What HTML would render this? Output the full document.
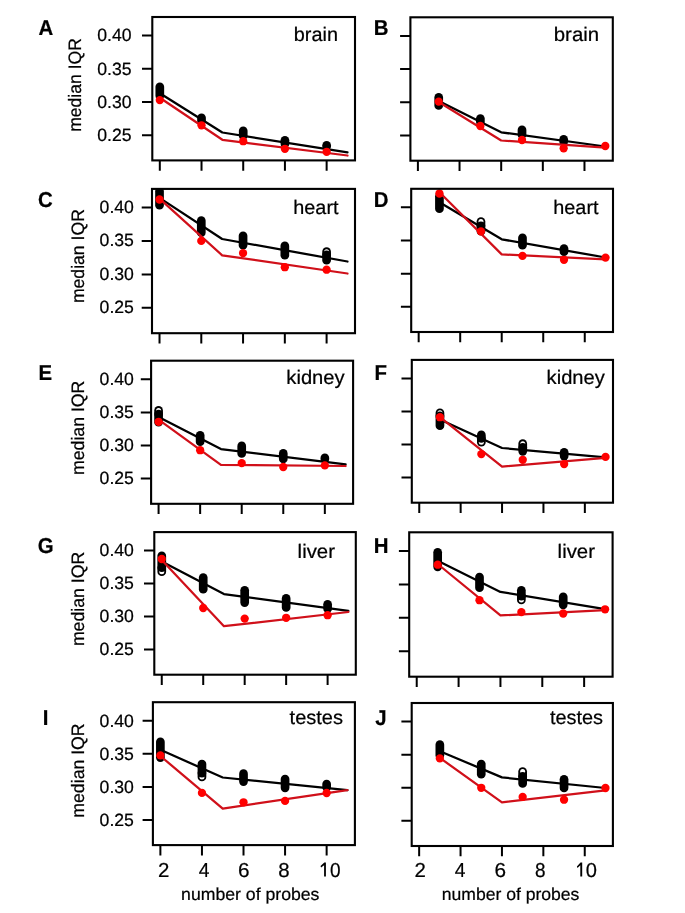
<!DOCTYPE html>
<html><head><meta charset="utf-8"><style>
html,body{margin:0;padding:0;background:#fff;}
svg{display:block;will-change:transform;}
text{font-family:"Liberation Sans",sans-serif;fill:#000;text-rendering:geometricPrecision;stroke:#000;stroke-width:0.22px;}
</style></head><body>
<svg width="685" height="913" viewBox="0 0 685 913">
<rect width="685" height="913" fill="#fff"/>
<defs>
<clipPath id="cA"><rect x="152.30" y="17.00" width="202.70" height="143.40"/></clipPath>
<clipPath id="cB"><rect x="410.40" y="17.30" width="202.40" height="143.40"/></clipPath>
<clipPath id="cC"><rect x="152.00" y="188.90" width="203.00" height="144.30"/></clipPath>
<clipPath id="cD"><rect x="411.20" y="188.80" width="201.80" height="143.20"/></clipPath>
<clipPath id="cE"><rect x="151.10" y="360.70" width="202.00" height="143.10"/></clipPath>
<clipPath id="cF"><rect x="411.80" y="359.90" width="201.20" height="142.80"/></clipPath>
<clipPath id="cG"><rect x="154.30" y="532.10" width="201.50" height="142.60"/></clipPath>
<clipPath id="cH"><rect x="409.20" y="532.30" width="203.40" height="144.40"/></clipPath>
<clipPath id="cI"><rect x="152.90" y="702.20" width="202.00" height="142.90"/></clipPath>
<clipPath id="cJ"><rect x="411.70" y="703.00" width="201.20" height="143.00"/></clipPath>
</defs>
<g clip-path="url(#cA)">
<rect x="155.46" y="82.40" width="8.7" height="17.60" rx="4.35" fill="#000"/>
<rect x="197.17" y="113.50" width="8.7" height="11.50" rx="4.35" fill="#000"/>
<rect x="238.87" y="126.40" width="8.7" height="13.60" rx="4.35" fill="#000"/>
<rect x="280.58" y="136.00" width="8.7" height="12.00" rx="4.35" fill="#000"/>
<rect x="322.29" y="141.00" width="8.7" height="9.50" rx="4.35" fill="#000"/>
<polyline points="159.81,93.30 222.37,132.50 347.49,152.40" fill="none" stroke="#000" stroke-width="2.25" stroke-linejoin="round" stroke-linecap="round"/>
<polyline points="159.81,97.70 222.37,139.80 347.49,155.50" fill="none" stroke="#d0101a" stroke-width="2.25" stroke-linejoin="round" stroke-linecap="round"/>
<circle cx="159.81" cy="100.10" r="4.15" fill="#ff0000"/>
<circle cx="201.52" cy="125.30" r="4.15" fill="#ff0000"/>
<circle cx="243.22" cy="141.20" r="4.15" fill="#ff0000"/>
<circle cx="284.93" cy="148.80" r="4.15" fill="#ff0000"/>
<circle cx="326.64" cy="151.80" r="4.15" fill="#ff0000"/>
</g>
<g clip-path="url(#cB)">
<rect x="434.37" y="93.10" width="8.7" height="16.70" rx="4.35" fill="#000"/>
<rect x="476.02" y="114.20" width="8.7" height="11.80" rx="4.35" fill="#000"/>
<rect x="517.66" y="125.60" width="8.7" height="13.40" rx="4.35" fill="#000"/>
<rect x="559.31" y="134.90" width="8.7" height="11.10" rx="4.35" fill="#000"/>
<polyline points="438.72,100.90 501.19,132.30 605.30,146.50" fill="none" stroke="#000" stroke-width="2.25" stroke-linejoin="round" stroke-linecap="round"/>
<polyline points="438.72,102.00 501.19,140.50 605.30,147.60" fill="none" stroke="#d0101a" stroke-width="2.25" stroke-linejoin="round" stroke-linecap="round"/>
<circle cx="438.72" cy="101.60" r="4.15" fill="#ff0000"/>
<circle cx="480.37" cy="126.00" r="4.15" fill="#ff0000"/>
<circle cx="522.01" cy="140.00" r="4.15" fill="#ff0000"/>
<circle cx="563.66" cy="148.30" r="4.15" fill="#ff0000"/>
<circle cx="605.30" cy="146.00" r="4.15" fill="#ff0000"/>
</g>
<g clip-path="url(#cC)">
<rect x="155.17" y="186.90" width="8.7" height="22.60" rx="4.35" fill="#000"/>
<rect x="196.94" y="216.30" width="8.7" height="20.80" rx="4.35" fill="#000"/>
<rect x="238.71" y="231.40" width="8.7" height="18.20" rx="4.35" fill="#000"/>
<rect x="280.48" y="241.60" width="8.7" height="17.90" rx="4.35" fill="#000"/>
<rect x="322.25" y="247.30" width="8.7" height="17.20" rx="4.35" fill="#000"/>
<circle cx="326.60" cy="251.65" r="2.50" fill="#fff"/>
<circle cx="326.60" cy="254.85" r="4.35" fill="#000"/>
<polyline points="159.52,197.90 222.17,239.00 347.48,261.50" fill="none" stroke="#000" stroke-width="2.25" stroke-linejoin="round" stroke-linecap="round"/>
<polyline points="159.52,198.60 222.17,255.30 347.48,273.50" fill="none" stroke="#d0101a" stroke-width="2.25" stroke-linejoin="round" stroke-linecap="round"/>
<circle cx="159.52" cy="199.50" r="4.15" fill="#ff0000"/>
<circle cx="201.29" cy="240.90" r="4.15" fill="#ff0000"/>
<circle cx="243.06" cy="253.10" r="4.15" fill="#ff0000"/>
<circle cx="284.83" cy="267.20" r="4.15" fill="#ff0000"/>
<circle cx="326.60" cy="269.70" r="4.15" fill="#ff0000"/>
</g>
<g clip-path="url(#cD)">
<rect x="435.09" y="192.00" width="8.7" height="21.00" rx="4.35" fill="#000"/>
<rect x="476.61" y="217.20" width="8.7" height="18.40" rx="4.35" fill="#000"/>
<circle cx="480.96" cy="221.55" r="2.50" fill="#fff"/>
<circle cx="480.96" cy="225.75" r="4.35" fill="#000"/>
<rect x="518.13" y="233.40" width="8.7" height="16.20" rx="4.35" fill="#000"/>
<rect x="559.65" y="244.20" width="8.7" height="11.80" rx="4.35" fill="#000"/>
<polyline points="439.44,202.30 501.72,239.30 605.53,257.50" fill="none" stroke="#000" stroke-width="2.25" stroke-linejoin="round" stroke-linecap="round"/>
<polyline points="439.44,192.20 501.72,254.40 605.53,259.30" fill="none" stroke="#d0101a" stroke-width="2.25" stroke-linejoin="round" stroke-linecap="round"/>
<circle cx="439.44" cy="193.50" r="4.15" fill="#ff0000"/>
<circle cx="480.96" cy="231.40" r="4.15" fill="#ff0000"/>
<circle cx="522.48" cy="255.90" r="4.15" fill="#ff0000"/>
<circle cx="564.00" cy="259.80" r="4.15" fill="#ff0000"/>
<circle cx="605.53" cy="257.60" r="4.15" fill="#ff0000"/>
</g>
<g clip-path="url(#cE)">
<rect x="154.23" y="406.10" width="8.7" height="20.40" rx="4.35" fill="#000"/>
<circle cx="158.58" cy="410.45" r="2.50" fill="#fff"/>
<circle cx="158.58" cy="414.05" r="4.35" fill="#000"/>
<rect x="195.80" y="431.00" width="8.7" height="15.00" rx="4.35" fill="#000"/>
<rect x="237.36" y="441.60" width="8.7" height="16.20" rx="4.35" fill="#000"/>
<rect x="278.92" y="449.10" width="8.7" height="14.20" rx="4.35" fill="#000"/>
<rect x="320.49" y="453.60" width="8.7" height="9.70" rx="4.35" fill="#000"/>
<polyline points="158.58,417.00 220.93,449.10 345.62,464.30" fill="none" stroke="#000" stroke-width="2.25" stroke-linejoin="round" stroke-linecap="round"/>
<polyline points="158.58,419.60 220.93,464.80 345.62,466.00" fill="none" stroke="#d0101a" stroke-width="2.25" stroke-linejoin="round" stroke-linecap="round"/>
<circle cx="158.58" cy="421.80" r="4.15" fill="#ff0000"/>
<circle cx="200.15" cy="450.20" r="4.15" fill="#ff0000"/>
<circle cx="241.71" cy="463.10" r="4.15" fill="#ff0000"/>
<circle cx="283.27" cy="467.00" r="4.15" fill="#ff0000"/>
<circle cx="324.84" cy="465.40" r="4.15" fill="#ff0000"/>
</g>
<g clip-path="url(#cF)">
<rect x="435.60" y="408.40" width="8.7" height="21.60" rx="4.35" fill="#000"/>
<circle cx="439.95" cy="412.75" r="2.50" fill="#fff"/>
<circle cx="439.95" cy="415.95" r="4.35" fill="#000"/>
<rect x="477.00" y="430.60" width="8.7" height="15.90" rx="4.35" fill="#000"/>
<circle cx="481.35" cy="442.15" r="2.50" fill="#fff"/>
<circle cx="481.35" cy="438.35" r="4.35" fill="#000"/>
<rect x="518.40" y="439.30" width="8.7" height="16.40" rx="4.35" fill="#000"/>
<circle cx="522.75" cy="443.65" r="2.50" fill="#fff"/>
<circle cx="522.75" cy="447.45" r="4.35" fill="#000"/>
<rect x="559.80" y="448.00" width="8.7" height="12.40" rx="4.35" fill="#000"/>
<polyline points="439.95,419.60 502.05,448.00 605.55,457.40" fill="none" stroke="#000" stroke-width="2.25" stroke-linejoin="round" stroke-linecap="round"/>
<polyline points="439.95,417.20 502.05,466.60 605.55,457.80" fill="none" stroke="#d0101a" stroke-width="2.25" stroke-linejoin="round" stroke-linecap="round"/>
<circle cx="439.95" cy="417.20" r="4.15" fill="#ff0000"/>
<circle cx="481.35" cy="454.10" r="4.15" fill="#ff0000"/>
<circle cx="522.75" cy="459.80" r="4.15" fill="#ff0000"/>
<circle cx="564.15" cy="464.10" r="4.15" fill="#ff0000"/>
<circle cx="605.55" cy="456.90" r="4.15" fill="#ff0000"/>
</g>
<g clip-path="url(#cG)">
<rect x="157.41" y="551.40" width="8.7" height="24.60" rx="4.35" fill="#000"/>
<circle cx="161.76" cy="571.65" r="2.50" fill="#fff"/>
<circle cx="161.76" cy="567.75" r="4.35" fill="#000"/>
<rect x="198.87" y="573.20" width="8.7" height="20.40" rx="4.35" fill="#000"/>
<rect x="240.33" y="586.00" width="8.7" height="20.90" rx="4.35" fill="#000"/>
<rect x="281.80" y="594.10" width="8.7" height="17.70" rx="4.35" fill="#000"/>
<rect x="323.26" y="600.00" width="8.7" height="13.10" rx="4.35" fill="#000"/>
<polyline points="161.76,561.50 223.95,594.10 348.34,610.80" fill="none" stroke="#000" stroke-width="2.25" stroke-linejoin="round" stroke-linecap="round"/>
<polyline points="161.76,560.00 223.95,626.20 348.34,612.00" fill="none" stroke="#d0101a" stroke-width="2.25" stroke-linejoin="round" stroke-linecap="round"/>
<circle cx="161.76" cy="559.00" r="4.15" fill="#ff0000"/>
<circle cx="203.22" cy="608.00" r="4.15" fill="#ff0000"/>
<circle cx="244.68" cy="618.60" r="4.15" fill="#ff0000"/>
<circle cx="286.15" cy="617.80" r="4.15" fill="#ff0000"/>
<circle cx="327.61" cy="615.20" r="4.15" fill="#ff0000"/>
</g>
<g clip-path="url(#cH)">
<rect x="433.31" y="548.00" width="8.7" height="23.20" rx="4.35" fill="#000"/>
<rect x="475.16" y="572.70" width="8.7" height="19.40" rx="4.35" fill="#000"/>
<rect x="517.01" y="585.90" width="8.7" height="18.40" rx="4.35" fill="#000"/>
<circle cx="521.36" cy="599.95" r="2.50" fill="#fff"/>
<circle cx="521.36" cy="596.15" r="4.35" fill="#000"/>
<rect x="558.86" y="592.40" width="8.7" height="16.80" rx="4.35" fill="#000"/>
<polyline points="437.66,560.70 500.44,591.90 605.07,609.20" fill="none" stroke="#000" stroke-width="2.25" stroke-linejoin="round" stroke-linecap="round"/>
<polyline points="437.66,564.00 500.44,615.40 605.07,610.20" fill="none" stroke="#d0101a" stroke-width="2.25" stroke-linejoin="round" stroke-linecap="round"/>
<circle cx="437.66" cy="564.70" r="4.15" fill="#ff0000"/>
<circle cx="479.51" cy="600.20" r="4.15" fill="#ff0000"/>
<circle cx="521.36" cy="612.10" r="4.15" fill="#ff0000"/>
<circle cx="563.21" cy="613.50" r="4.15" fill="#ff0000"/>
<circle cx="605.07" cy="609.30" r="4.15" fill="#ff0000"/>
</g>
<g clip-path="url(#cI)">
<rect x="156.03" y="737.40" width="8.7" height="24.50" rx="4.35" fill="#000"/>
<rect x="197.60" y="759.80" width="8.7" height="21.50" rx="4.35" fill="#000"/>
<circle cx="201.95" cy="776.95" r="2.50" fill="#fff"/>
<circle cx="201.95" cy="773.05" r="4.35" fill="#000"/>
<rect x="239.16" y="769.30" width="8.7" height="16.60" rx="4.35" fill="#000"/>
<rect x="280.72" y="774.70" width="8.7" height="17.50" rx="4.35" fill="#000"/>
<rect x="322.29" y="779.70" width="8.7" height="11.80" rx="4.35" fill="#000"/>
<polyline points="160.38,749.80 222.73,777.50 347.42,790.20" fill="none" stroke="#000" stroke-width="2.25" stroke-linejoin="round" stroke-linecap="round"/>
<polyline points="160.38,756.00 222.73,808.60 347.42,790.20" fill="none" stroke="#d0101a" stroke-width="2.25" stroke-linejoin="round" stroke-linecap="round"/>
<circle cx="160.38" cy="755.40" r="4.15" fill="#ff0000"/>
<circle cx="201.95" cy="792.90" r="4.15" fill="#ff0000"/>
<circle cx="243.51" cy="802.30" r="4.15" fill="#ff0000"/>
<circle cx="285.07" cy="800.90" r="4.15" fill="#ff0000"/>
<circle cx="326.64" cy="793.00" r="4.15" fill="#ff0000"/>
</g>
<g clip-path="url(#cJ)">
<rect x="435.50" y="740.30" width="8.7" height="19.40" rx="4.35" fill="#000"/>
<rect x="476.90" y="759.70" width="8.7" height="18.90" rx="4.35" fill="#000"/>
<rect x="518.30" y="767.20" width="8.7" height="20.60" rx="4.35" fill="#000"/>
<circle cx="522.65" cy="771.55" r="2.50" fill="#fff"/>
<circle cx="522.65" cy="776.35" r="4.35" fill="#000"/>
<rect x="559.70" y="774.90" width="8.7" height="17.40" rx="4.35" fill="#000"/>
<polyline points="439.85,751.20 501.95,777.40 605.45,788.00" fill="none" stroke="#000" stroke-width="2.25" stroke-linejoin="round" stroke-linecap="round"/>
<polyline points="439.85,757.90 501.95,802.30 605.45,790.30" fill="none" stroke="#d0101a" stroke-width="2.25" stroke-linejoin="round" stroke-linecap="round"/>
<circle cx="439.85" cy="758.40" r="4.15" fill="#ff0000"/>
<circle cx="481.25" cy="787.80" r="4.15" fill="#ff0000"/>
<circle cx="522.65" cy="796.90" r="4.15" fill="#ff0000"/>
<circle cx="564.05" cy="799.70" r="4.15" fill="#ff0000"/>
<circle cx="605.45" cy="788.00" r="4.15" fill="#ff0000"/>
</g>
<rect x="152.30" y="17.00" width="202.70" height="143.40" fill="none" stroke="#000" stroke-width="2.1"/>
<path d="M142.00 135.17H152.30M142.00 101.98H152.30M142.00 68.78H152.30M142.00 35.59H152.30M159.81 160.40V170.70M201.52 160.40V170.70M243.22 160.40V170.70M284.93 160.40V170.70M326.64 160.40V170.70" stroke="#000" stroke-width="2.0" fill="none"/>
<rect x="410.40" y="17.30" width="202.40" height="143.40" fill="none" stroke="#000" stroke-width="2.1"/>
<path d="M400.10 135.47H410.40M400.10 102.28H410.40M400.10 69.08H410.40M400.10 35.89H410.40M417.90 160.70V171.00M459.54 160.70V171.00M501.19 160.70V171.00M542.83 160.70V171.00M584.48 160.70V171.00" stroke="#000" stroke-width="2.0" fill="none"/>
<rect x="152.00" y="188.90" width="203.00" height="144.30" fill="none" stroke="#000" stroke-width="2.1"/>
<path d="M141.70 307.81H152.00M141.70 274.41H152.00M141.70 241.01H152.00M141.70 207.61H152.00M159.52 333.20V343.50M201.29 333.20V343.50M243.06 333.20V343.50M284.83 333.20V343.50M326.60 333.20V343.50" stroke="#000" stroke-width="2.0" fill="none"/>
<rect x="411.20" y="188.80" width="201.80" height="143.20" fill="none" stroke="#000" stroke-width="2.1"/>
<path d="M400.90 306.81H411.20M400.90 273.66H411.20M400.90 240.51H411.20M400.90 207.36H411.20M418.67 332.00V342.30M460.20 332.00V342.30M501.72 332.00V342.30M543.24 332.00V342.30M584.76 332.00V342.30" stroke="#000" stroke-width="2.0" fill="none"/>
<rect x="151.10" y="360.70" width="202.00" height="143.10" fill="none" stroke="#000" stroke-width="2.1"/>
<path d="M140.80 478.62H151.10M140.80 445.50H151.10M140.80 412.38H151.10M140.80 379.25H151.10M158.58 503.80V514.10M200.15 503.80V514.10M241.71 503.80V514.10M283.27 503.80V514.10M324.84 503.80V514.10" stroke="#000" stroke-width="2.0" fill="none"/>
<rect x="411.80" y="359.90" width="201.20" height="142.80" fill="none" stroke="#000" stroke-width="2.1"/>
<path d="M401.50 477.58H411.80M401.50 444.52H411.80M401.50 411.47H411.80M401.50 378.41H411.80M419.25 502.70V513.00M460.65 502.70V513.00M502.05 502.70V513.00M543.45 502.70V513.00M584.85 502.70V513.00" stroke="#000" stroke-width="2.0" fill="none"/>
<rect x="154.30" y="532.10" width="201.50" height="142.60" fill="none" stroke="#000" stroke-width="2.1"/>
<path d="M144.00 649.61H154.30M144.00 616.60H154.30M144.00 583.59H154.30M144.00 550.59H154.30M161.76 674.70V685.00M203.22 674.70V685.00M244.68 674.70V685.00M286.15 674.70V685.00M327.61 674.70V685.00" stroke="#000" stroke-width="2.0" fill="none"/>
<rect x="409.20" y="532.30" width="203.40" height="144.40" fill="none" stroke="#000" stroke-width="2.1"/>
<path d="M398.90 651.30H409.20M398.90 617.87H409.20M398.90 584.44H409.20M398.90 551.02H409.20M416.73 676.70V687.00M458.59 676.70V687.00M500.44 676.70V687.00M542.29 676.70V687.00M584.14 676.70V687.00" stroke="#000" stroke-width="2.0" fill="none"/>
<rect x="152.90" y="702.20" width="202.00" height="142.90" fill="none" stroke="#000" stroke-width="2.1"/>
<path d="M142.60 819.96H152.90M142.60 786.88H152.90M142.60 753.80H152.90M142.60 720.72H152.90M160.38 845.10V855.40M201.95 845.10V855.40M243.51 845.10V855.40M285.07 845.10V855.40M326.64 845.10V855.40" stroke="#000" stroke-width="2.0" fill="none"/>
<rect x="411.70" y="703.00" width="201.20" height="143.00" fill="none" stroke="#000" stroke-width="2.1"/>
<path d="M401.40 820.84H411.70M401.40 787.74H411.70M401.40 754.64H411.70M401.40 721.54H411.70M419.15 846.00V856.30M460.55 846.00V856.30M501.95 846.00V856.30M543.35 846.00V856.30M584.75 846.00V856.30" stroke="#000" stroke-width="2.0" fill="none"/>
<text x="38.55" y="35.00" font-size="21.5" font-weight="bold" textLength="14.75" lengthAdjust="spacingAndGlyphs">A</text>
<text x="373.74" y="35.00" font-size="21.5" font-weight="bold" textLength="14.75" lengthAdjust="spacingAndGlyphs">B</text>
<text x="37.94" y="207.00" font-size="21.5" font-weight="bold" textLength="14.75" lengthAdjust="spacingAndGlyphs">C</text>
<text x="373.82" y="207.00" font-size="21.5" font-weight="bold" textLength="14.75" lengthAdjust="spacingAndGlyphs">D</text>
<text x="38.45" y="380.00" font-size="21.5" font-weight="bold" textLength="13.62" lengthAdjust="spacingAndGlyphs">E</text>
<text x="374.49" y="380.00" font-size="21.5" font-weight="bold" textLength="12.48" lengthAdjust="spacingAndGlyphs">F</text>
<text x="37.74" y="553.00" font-size="21.5" font-weight="bold" textLength="15.89" lengthAdjust="spacingAndGlyphs">G</text>
<text x="373.67" y="553.00" font-size="21.5" font-weight="bold" textLength="14.75" lengthAdjust="spacingAndGlyphs">H</text>
<text x="42.67" y="725.00" font-size="21.5" font-weight="bold" textLength="5.68" lengthAdjust="spacingAndGlyphs">I</text>
<text x="375.37" y="725.00" font-size="21.5" font-weight="bold" textLength="11.36" lengthAdjust="spacingAndGlyphs">J</text>
<text x="293.81" y="41.00" font-size="19.6" textLength="44.21" lengthAdjust="spacingAndGlyphs">brain</text>
<text x="553.77" y="41.00" font-size="19.6" textLength="45.38" lengthAdjust="spacingAndGlyphs">brain</text>
<text x="293.31" y="214.00" font-size="19.6" textLength="45.23" lengthAdjust="spacingAndGlyphs">heart</text>
<text x="553.31" y="214.00" font-size="19.6" textLength="45.23" lengthAdjust="spacingAndGlyphs">heart</text>
<text x="286.34" y="384.00" font-size="19.6" textLength="58.33" lengthAdjust="spacingAndGlyphs">kidney</text>
<text x="546.64" y="384.00" font-size="19.6" textLength="58.22" lengthAdjust="spacingAndGlyphs">kidney</text>
<text x="297.63" y="558.00" font-size="19.6" textLength="37.30" lengthAdjust="spacingAndGlyphs">liver</text>
<text x="557.63" y="558.00" font-size="19.6" textLength="37.30" lengthAdjust="spacingAndGlyphs">liver</text>
<text x="289.60" y="724.00" font-size="19.6" textLength="53.41" lengthAdjust="spacingAndGlyphs">testes</text>
<text x="549.90" y="724.00" font-size="19.6" textLength="53.11" lengthAdjust="spacingAndGlyphs">testes</text>
<text x="97.19" y="141.00" font-size="17.8" textLength="34.34" lengthAdjust="spacingAndGlyphs">0.25</text>
<text x="97.20" y="108.00" font-size="17.8" textLength="34.29" lengthAdjust="spacingAndGlyphs">0.30</text>
<text x="97.19" y="75.00" font-size="17.8" textLength="34.34" lengthAdjust="spacingAndGlyphs">0.35</text>
<text x="97.20" y="41.00" font-size="17.8" textLength="34.29" lengthAdjust="spacingAndGlyphs">0.40</text>
<text x="99.59" y="313.00" font-size="17.8" textLength="34.34" lengthAdjust="spacingAndGlyphs">0.25</text>
<text x="99.60" y="280.00" font-size="17.8" textLength="34.29" lengthAdjust="spacingAndGlyphs">0.30</text>
<text x="99.59" y="246.00" font-size="17.8" textLength="34.34" lengthAdjust="spacingAndGlyphs">0.35</text>
<text x="99.60" y="213.00" font-size="17.8" textLength="34.29" lengthAdjust="spacingAndGlyphs">0.40</text>
<text x="99.59" y="484.00" font-size="17.8" textLength="34.34" lengthAdjust="spacingAndGlyphs">0.25</text>
<text x="99.60" y="451.00" font-size="17.8" textLength="34.29" lengthAdjust="spacingAndGlyphs">0.30</text>
<text x="99.59" y="418.00" font-size="17.8" textLength="34.34" lengthAdjust="spacingAndGlyphs">0.35</text>
<text x="99.60" y="385.00" font-size="17.8" textLength="34.29" lengthAdjust="spacingAndGlyphs">0.40</text>
<text x="99.59" y="655.00" font-size="17.8" textLength="34.34" lengthAdjust="spacingAndGlyphs">0.25</text>
<text x="99.60" y="622.00" font-size="17.8" textLength="34.29" lengthAdjust="spacingAndGlyphs">0.30</text>
<text x="99.59" y="589.00" font-size="17.8" textLength="34.34" lengthAdjust="spacingAndGlyphs">0.35</text>
<text x="99.60" y="556.00" font-size="17.8" textLength="34.29" lengthAdjust="spacingAndGlyphs">0.40</text>
<text x="99.59" y="826.00" font-size="17.8" textLength="34.34" lengthAdjust="spacingAndGlyphs">0.25</text>
<text x="99.60" y="793.00" font-size="17.8" textLength="34.29" lengthAdjust="spacingAndGlyphs">0.30</text>
<text x="99.59" y="760.00" font-size="17.8" textLength="34.34" lengthAdjust="spacingAndGlyphs">0.35</text>
<text x="99.60" y="727.00" font-size="17.8" textLength="34.29" lengthAdjust="spacingAndGlyphs">0.40</text>
<text transform="translate(80.70,131.78) rotate(-90)" x="0" y="0" font-size="18.0" textLength="93.63" lengthAdjust="spacingAndGlyphs">median IQR</text>
<text transform="translate(83.80,303.09) rotate(-90)" x="0" y="0" font-size="18.0" textLength="93.94" lengthAdjust="spacingAndGlyphs">median IQR</text>
<text transform="translate(83.80,474.99) rotate(-90)" x="0" y="0" font-size="18.0" textLength="94.34" lengthAdjust="spacingAndGlyphs">median IQR</text>
<text transform="translate(83.90,646.09) rotate(-90)" x="0" y="0" font-size="18.0" textLength="94.24" lengthAdjust="spacingAndGlyphs">median IQR</text>
<text transform="translate(83.90,817.69) rotate(-90)" x="0" y="0" font-size="18.0" textLength="94.34" lengthAdjust="spacingAndGlyphs">median IQR</text>
<text x="157.98" y="877.00" font-size="20.2" textLength="11.37" lengthAdjust="spacingAndGlyphs">2</text>
<text x="198.77" y="877.00" font-size="20.2" textLength="10.68" lengthAdjust="spacingAndGlyphs">4</text>
<text x="237.96" y="877.00" font-size="20.2" textLength="11.54" lengthAdjust="spacingAndGlyphs">6</text>
<text x="278.23" y="877.00" font-size="20.2" textLength="11.36" lengthAdjust="spacingAndGlyphs">8</text>
<text x="414.58" y="877.00" font-size="20.2" textLength="11.37" lengthAdjust="spacingAndGlyphs">2</text>
<text x="454.87" y="877.00" font-size="20.2" textLength="10.68" lengthAdjust="spacingAndGlyphs">4</text>
<text x="494.56" y="877.00" font-size="20.2" textLength="11.54" lengthAdjust="spacingAndGlyphs">6</text>
<text x="535.10" y="877.00" font-size="20.2" textLength="10.53" lengthAdjust="spacingAndGlyphs">8</text>
<path d="M325.90 862.4L325.90 876.6L324.10 876.6L324.10 865.30L321.10 867.50L320.50 866.00L324.30 862.4Z" fill="#000"/>
<text x="330.04" y="877.00" font-size="20.2" textLength="10.60" lengthAdjust="spacingAndGlyphs">0</text>
<path d="M582.20 862.4L582.20 876.6L580.30 876.6L580.30 865.30L577.50 868.00L576.90 866.50L580.50 862.4Z" fill="#000"/>
<text x="585.80" y="877.00" font-size="20.2" textLength="11.18" lengthAdjust="spacingAndGlyphs">0</text>
<text x="181.11" y="900.00" font-size="17.3" textLength="138.32" lengthAdjust="spacingAndGlyphs">number of probes</text>
<text x="441.71" y="900.00" font-size="17.3" textLength="137.71" lengthAdjust="spacingAndGlyphs">number of probes</text>
</svg>
</body></html>
